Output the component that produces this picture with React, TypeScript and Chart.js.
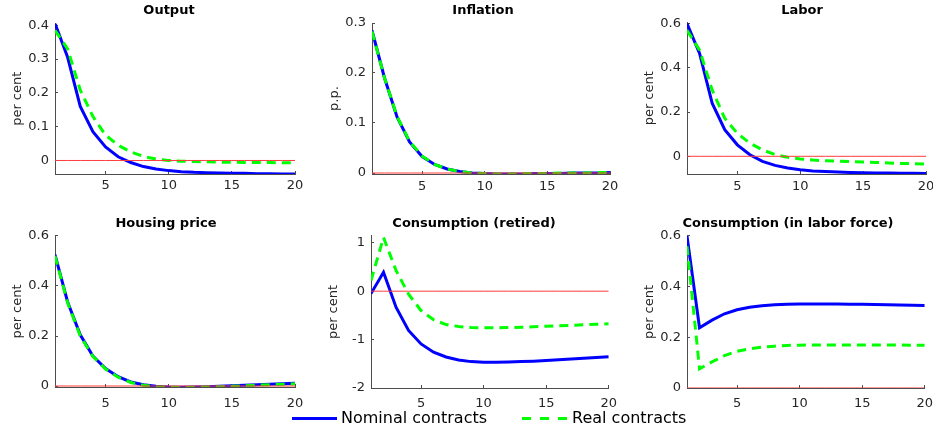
import React, { useEffect, useRef } from "react";
import { Chart, registerables, ChartConfiguration } from "chart.js";

Chart.register(...registerables);

Chart.defaults.font.family = "'DejaVu Sans', sans-serif";
Chart.defaults.color = "#262626";

// quarters after the shock
const periods = [1, 2, 3, 4, 5, 6, 7, 8, 9, 10, 11, 12, 13, 14, 15, 16, 17, 18, 19, 20];
const xTicks = [5, 10, 15, 20];

const outputNominal = [0.405, 0.305, 0.16, 0.085, 0.04, 0.011, -0.006, -0.018, -0.025, -0.03, -0.033, -0.035, -0.036, -0.037, -0.038, -0.038, -0.039, -0.039, -0.04, -0.04];
const outputReal = [0.385, 0.33, 0.208, 0.13, 0.075, 0.045, 0.025, 0.012, 0.004, 0.0, -0.002, -0.003, -0.004, -0.005, -0.005, -0.006, -0.006, -0.006, -0.007, -0.007];

const inflationNominal = [0.285, 0.19, 0.112, 0.062, 0.033, 0.017, 0.008, 0.003, 0.0, -0.001, -0.002, -0.002, -0.002, -0.001, -0.001, -0.001, 0, 0, 0, 0.001];
const inflationReal = [0.283, 0.19, 0.113, 0.063, 0.034, 0.017, 0.008, 0.003, 0.0, -0.001, -0.002, -0.002, -0.001, -0.001, -0.001, 0, 0, 0, 0.001, 0.001];

const laborNominal = [0.6, 0.465, 0.24, 0.12, 0.052, 0.007, -0.023, -0.041, -0.053, -0.061, -0.066, -0.069, -0.071, -0.073, -0.074, -0.075, -0.076, -0.077, -0.077, -0.078];
const laborReal = [0.57, 0.48, 0.3, 0.172, 0.104, 0.059, 0.029, 0.008, -0.004, -0.012, -0.017, -0.02, -0.022, -0.024, -0.026, -0.028, -0.03, -0.032, -0.033, -0.035];

const housingNominal = [0.525, 0.336, 0.205, 0.12, 0.07, 0.037, 0.016, 0.005, -0.001, -0.004, -0.005, -0.004, -0.003, -0.001, 0.001, 0.003, 0.005, 0.007, 0.009, 0.011];
const housingReal = [0.52, 0.333, 0.2, 0.118, 0.068, 0.035, 0.014, 0.003, -0.003, -0.005, -0.006, -0.005, -0.004, -0.003, -0.001, 0.001, 0.003, 0.005, 0.007, 0.009];

const retiredNominal = [-0.05, 0.39, -0.33, -0.81, -1.09, -1.26, -1.36, -1.42, -1.455, -1.47, -1.47, -1.465, -1.455, -1.445, -1.43, -1.415, -1.4, -1.385, -1.37, -1.355];
const retiredReal = [0.22, 1.11, 0.43, -0.06, -0.4, -0.59, -0.69, -0.73, -0.75, -0.755, -0.755, -0.75, -0.745, -0.735, -0.725, -0.715, -0.705, -0.695, -0.685, -0.675];

const workersNominal = [0.6, 0.238, 0.268, 0.293, 0.309, 0.319, 0.325, 0.329, 0.331, 0.332, 0.332, 0.332, 0.332, 0.331, 0.331, 0.33, 0.329, 0.328, 0.327, 0.326];
const workersReal = [0.56, 0.076, 0.103, 0.128, 0.145, 0.155, 0.161, 0.165, 0.168, 0.169, 0.17, 0.17, 0.17, 0.17, 0.17, 0.17, 0.17, 0.17, 0.169, 0.169];

const BLUE = "#0000ff";
const GREEN = "#00ff00";
const RED = "#ff3b3b";
const AXIS = "#4d4d4d";

const Y_AXIS_W = 46;
const X_AXIS_H = 24;
const TITLE_LH = 13 * 1.2;
const TICK_IN = 3; // matlab style ticks, drawn inside the box

interface PanelConfig {
  title: string;
  yLabel: string;
  nominal: number[];
  real: number[];
  yMin: number;
  yMax: number;
  yTicks: number[];
  // plot area in page pixels, and where the title sits
  plot: { left: number; right: number; top: number; bottom: number };
  titleX: number;
  titleY: number;
  canvasTop: number;
  xLabelPad: number;
}

const PANELS: PanelConfig[] = [
  {
    title: "Output", yLabel: "per cent", nominal: outputNominal, real: outputReal,
    yMin: -0.04, yMax: 0.405, yTicks: [0, 0.1, 0.2, 0.3, 0.4],
    plot: { left: 55, right: 295, top: 23.5, bottom: 174 }, titleX: 169, titleY: 11, canvasTop: 0, xLabelPad: 4,
  },
  {
    title: "Inflation", yLabel: "p.p.", nominal: inflationNominal, real: inflationReal,
    yMin: -0.002, yMax: 0.3, yTicks: [0, 0.1, 0.2, 0.3],
    plot: { left: 372, right: 610, top: 23, bottom: 174 }, titleX: 483, titleY: 11, canvasTop: 0, xLabelPad: 5,
  },
  {
    title: "Labor", yLabel: "per cent", nominal: laborNominal, real: laborReal,
    yMin: -0.08, yMax: 0.605, yTicks: [0, 0.2, 0.4, 0.6],
    plot: { left: 687, right: 926, top: 22.5, bottom: 174 }, titleX: 802, titleY: 11, canvasTop: 0, xLabelPad: 5,
  },
  {
    title: "Housing price", yLabel: "per cent", nominal: housingNominal, real: housingReal,
    yMin: -0.004, yMax: 0.6, yTicks: [0, 0.2, 0.4, 0.6],
    plot: { left: 55, right: 295, top: 236, bottom: 387 }, titleX: 166, titleY: 224, canvasTop: 205, xLabelPad: 9,
  },
  {
    title: "Consumption (retired)", yLabel: "per cent", nominal: retiredNominal, real: retiredReal,
    yMin: -2, yMax: 1.14, yTicks: [-2, -1, 0, 1],
    plot: { left: 371, right: 610, top: 236, bottom: 388 }, titleX: 474, titleY: 224, canvasTop: 205, xLabelPad: 8,
  },
  {
    title: "Consumption (in labor force)", yLabel: "per cent", nominal: workersNominal, real: workersReal,
    yMin: 0, yMax: 0.6, yTicks: [0, 0.2, 0.4, 0.6],
    plot: { left: 687, right: 926, top: 236, bottom: 388 }, titleX: 788, titleY: 224, canvasTop: 205, xLabelPad: 8,
  },
];

const toPoints = (values: number[]) => periods.map((p, i) => ({ x: p, y: values[i] }));

function Panel({ cfg }: { cfg: PanelConfig }) {
  const chartRef = useRef<HTMLCanvasElement | null>(null);

  // the title is centred on the whole canvas, so size the canvas round the wanted title spot;
  // an empty right-hand axis takes up the room on the right, it must also hold half of "20"
  const minSpacer = 10 + cfg.xLabelPad;
  const right = Math.max(2 * cfg.titleX - (cfg.plot.left - Y_AXIS_W), cfg.plot.right + minSpacer);
  const left = 2 * cfg.titleX - right;
  const yAxisW = cfg.plot.left - left;
  const spacerW = right - cfg.plot.right;
  const titlePadTop = cfg.titleY - TITLE_LH / 2 - cfg.canvasTop;
  const titlePadBottom = cfg.plot.top - (cfg.titleY + TITLE_LH / 2);
  const height = cfg.plot.bottom + X_AXIS_H - cfg.canvasTop;

  useEffect(() => {
    if (!chartRef.current) return;

    const config: ChartConfiguration<"line"> = {
      type: "line",
      data: {
        datasets: [
          {
            label: "zero",
            data: toPoints(periods.map(() => 0)),
            borderColor: RED,
            borderWidth: 1,
            pointRadius: 0,
            order: 0,
          },
          {
            label: "Real contracts",
            data: toPoints(cfg.real),
            borderColor: GREEN,
            borderWidth: 3,
            borderDash: [9, 6],
            pointRadius: 0,
            tension: 0,
            order: 1,
          },
          {
            label: "Nominal contracts",
            data: toPoints(cfg.nominal),
            borderColor: BLUE,
            borderWidth: 3,
            pointRadius: 0,
            tension: 0,
            order: 2,
          },
        ],
      },
      options: {
        animation: false,
        responsive: true,
        maintainAspectRatio: false,
        layout: { padding: 0 },
        plugins: {
          legend: { display: false },
          tooltip: { enabled: false },
          title: {
            display: true,
            text: cfg.title,
            color: "#000",
            font: { size: 13, weight: "bold", lineHeight: 1.2 },
            padding: { top: titlePadTop, bottom: titlePadBottom },
          },
        },
        scales: {
          x: {
            type: "linear",
            min: 1,
            max: 20,
            grid: {
              display: true,
              drawOnChartArea: false,
              drawTicks: true,
              tickLength: -TICK_IN,
              color: AXIS,
            },
            border: { display: true, color: AXIS, width: 1 },
            ticks: {
              font: { size: 13 },
              color: "#262626",
              padding: cfg.xLabelPad + TICK_IN,
              maxRotation: 0,
              callback: (v) => String(v),
            },
            afterBuildTicks: (scale) => {
              scale.ticks = xTicks.map((v) => ({ value: v }));
            },
            afterFit: (scale) => {
              scale.height = X_AXIS_H;
            },
          },
          y: {
            min: cfg.yMin,
            max: cfg.yMax,
            grid: {
              display: true,
              drawOnChartArea: false,
              drawTicks: true,
              tickLength: -TICK_IN,
              color: AXIS,
            },
            border: { display: true, color: AXIS, width: 1 },
            title: {
              display: true,
              text: cfg.yLabel,
              color: "#262626",
              font: { size: 13 },
              padding: { top: 1 + yAxisW - Y_AXIS_W, bottom: 0 },
            },
            ticks: {
              font: { size: 13 },
              color: "#262626",
              padding: 6 + TICK_IN,
              callback: (v) => String(v),
            },
            afterBuildTicks: (scale) => {
              scale.ticks = cfg.yTicks.map((v) => ({ value: v }));
            },
            afterFit: (scale) => {
              scale.width = yAxisW;
            },
          },
          spacer: {
            type: "linear",
            position: "right",
            grid: { display: false, drawTicks: false },
            border: { display: false },
            ticks: { display: false },
            afterFit: (scale) => {
              scale.width = spacerW;
            },
          },
        },
      },
    };

    const chart = new Chart(chartRef.current, config);
    return () => {
      chart.destroy();
    };
  }, [cfg]);

  return (
    <div
      style={{
        position: "absolute",
        left,
        top: cfg.canvasTop,
        width: right - left,
        height,
      }}
    >
      <canvas ref={chartRef} />
    </div>
  );
}

export default function App() {
  const legendText: React.CSSProperties = {
    position: "absolute",
    top: 408,
    height: 20,
    lineHeight: "20px",
    fontFamily: "'DejaVu Sans', sans-serif",
    fontSize: 16,
    color: "#000",
    whiteSpace: "nowrap",
  };

  return (
    <div
      style={{
        position: "absolute",
        left: 0,
        top: 0,
        width: 933,
        height: 432,
        overflow: "hidden",
        background: "#fff",
      }}
    >
      {PANELS.map((cfg) => (
        <Panel key={cfg.title} cfg={cfg} />
      ))}
      <div style={{ position: "absolute", left: 292, top: 417, width: 45, height: 3, background: BLUE }} />
      <div style={{ ...legendText, left: 341 }}>Nominal contracts</div>
      <div
        style={{
          position: "absolute",
          left: 522,
          top: 417,
          width: 45,
          height: 3,
          background: `repeating-linear-gradient(90deg, ${GREEN} 0 9px, transparent 9px 18px)`,
        }}
      />
      <div style={{ ...legendText, left: 572 }}>Real contracts</div>
    </div>
  );
}
